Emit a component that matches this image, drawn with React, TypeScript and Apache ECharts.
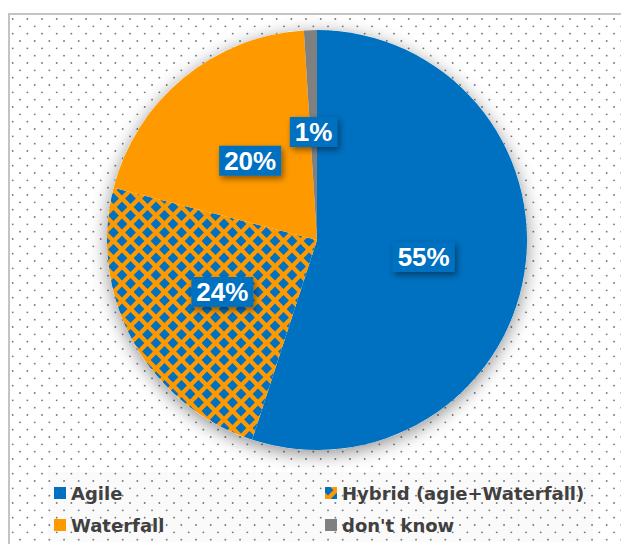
import React, { useEffect, useRef } from "react";
import * as echarts from "echarts";

const categories = ["Agile", "Hybrid (agie+Waterfall)", "Waterfall", "don't know"];
const values = [55, 24, 20, 1];
const legendColumn1 = ["Agile", "Waterfall"];
const legendColumn2 = ["Hybrid (agie+Waterfall)", "don't know"];

const BLUE = "#0070C0";
const ORANGE = "#FF9900";
const GRAY = "#808080";

function makeDiamondTile(): HTMLCanvasElement {
  const size = 34;
  const p = 17;
  const h = 5.4;
  const c = document.createElement("canvas");
  c.width = size;
  c.height = size;
  const ctx = c.getContext("2d")!;
  ctx.fillStyle = ORANGE;
  ctx.fillRect(0, 0, size, size);
  ctx.fillStyle = BLUE;
  for (let i = -1; i <= 2; i++) {
    for (let j = -1; j <= 2; j++) {
      for (const [ox, oy] of [[0, 0], [p / 2, p / 2]]) {
        const cx = i * p + ox + 3;
        const cy = j * p + oy + 3;
        ctx.beginPath();
        ctx.moveTo(cx, cy - h);
        ctx.lineTo(cx + h, cy);
        ctx.lineTo(cx, cy + h);
        ctx.lineTo(cx - h, cy);
        ctx.closePath();
        ctx.fill();
      }
    }
  }
  return c;
}

function makeDotTile(): HTMLCanvasElement {
  const size = 44;
  const p = 44 / 3;
  const c = document.createElement("canvas");
  c.width = size;
  c.height = size;
  const ctx = c.getContext("2d")!;
  ctx.fillStyle = "#ffffff";
  ctx.fillRect(0, 0, size, size);
  ctx.fillStyle = "#7a7a7a";
  const bases = [[12.7, 4.33], [5.37, 11.67]];
  for (let i = -1; i <= 3; i++) {
    for (let j = -1; j <= 3; j++) {
      for (const [bx, by] of bases) {
        const x = bx + i * p;
        const y = by + j * p;
        if (x < -2 || y < -2 || x > size + 2 || y > size + 2) continue;
        ctx.beginPath();
        ctx.arc(x, y, 0.95, 0, Math.PI * 2);
        ctx.fill();
      }
    }
  }
  return c;
}

export default function App() {
  const ref = useRef<HTMLDivElement>(null);

  useEffect(() => {
    if (!ref.current) return;
    const chart = echarts.init(ref.current, undefined, { renderer: "svg" });
    const diamond = makeDiamondTile();
    const dots = makeDotTile();
    const colors: any[] = [
      BLUE,
      { image: diamond, repeat: "repeat", imageWidth: 34, imageHeight: 34 },
      ORANGE,
      GRAY,
    ];
    const center = [317, 240];
    const radius = 210;

    const legendCommon = {
      orient: "vertical",
      icon: "rect",
      itemWidth: 12,
      itemHeight: 12,
      itemGap: 12,
      selectedMode: false,
      textStyle: {
        fontFamily: "DejaVu Sans",
        fontWeight: "bold",
        fontSize: 18,
        lineHeight: 20,
        color: "#404040",
      },
    };

    chart.setOption({
      animation: false,
      backgroundColor: "#ffffff",
      graphic: {
        elements: [
          {
            type: "rect",
            z: -10,
            silent: true,
            shape: { x: 9, y: 14, width: 700, height: 600 },
            style: {
              fill: { image: dots, repeat: "repeat", imageWidth: 44, imageHeight: 44 } as any,
              stroke: "#c4c4c4",
              lineWidth: 2,
            },
          },
          {
            type: "rect",
            z: -9,
            silent: true,
            shape: { x: 48, y: 472, width: 545, height: 70 },
            style: { fill: "rgba(0,0,0,0.02)" },
          },
        ],
      },
      legend: [
        { ...legendCommon, left: 49, top: 478, data: legendColumn1 },
        { ...legendCommon, left: 320, top: 478, data: legendColumn2 },
      ],
      series: [
        {
          type: "pie",
          name: "shadow",
          silent: true,
          z: 1,
          center,
          radius,
          label: { show: false },
          labelLine: { show: false },
          itemStyle: {
            color: "#ffffff",
            shadowBlur: 18,
            shadowColor: "rgba(0,0,0,0.45)",
            shadowOffsetY: 4,
          },
          data: [{ value: 1, name: "" }],
        },
        {
          type: "pie",
          z: 2,
          center,
          radius,
          startAngle: 90,
          clockwise: true,
          avoidLabelOverlap: false,
          percentPrecision: 0,
          labelLine: { show: false },
          itemStyle: { borderWidth: 0 },
          label: {
            show: true,
            position: "inside",
            formatter: "{d}%",
            fontFamily: "Liberation Sans",
            fontWeight: "bold",
            fontSize: 26,
            lineHeight: 26,
            color: "#ffffff",
            backgroundColor: BLUE,
            padding: [2, 5],
            shadowColor: "rgba(0,0,0,0.45)",
            shadowBlur: 6,
            shadowOffsetX: 2,
            shadowOffsetY: 3,
          },
          data: categories.map((name, i) => ({
            name,
            value: values[i],
            itemStyle: { color: colors[i] },
            ...(i === 2 ? { label: { offset: [2, 4] } } : {}),
          })),
        },
      ],
    } as any);

    return () => chart.dispose();
  }, []);

  return (
    <div
      ref={ref}
      style={{ position: "absolute", left: 0, top: 0, width: 621, height: 544 }}
    />
  );
}
